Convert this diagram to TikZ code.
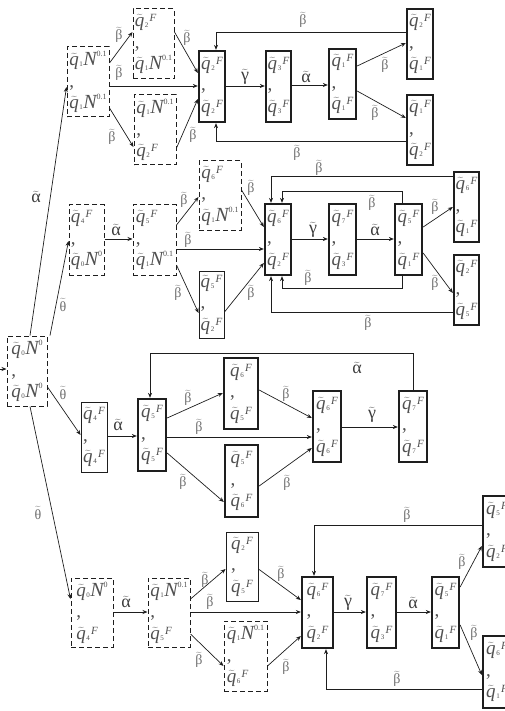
\documentclass[tikz,border=0pt]{standalone}
\usepackage{fontspec}
\setmainfont{Liberation Serif}
\usetikzlibrary{arrows.meta}
\definecolor{txt}{RGB}{80,80,80}
\definecolor{linec}{RGB}{30,30,30}
\definecolor{lbc}{RGB}{110,110,110}
\definecolor{lbd}{RGB}{60,60,60}
\newcommand\qq[1]{$\widetilde{\mbox{\itshape q}}$\hspace{0.6pt}{\fontsize{7}{7}\selectfont\raisebox{-1pt}{#1}}}
\newcommand\qF[1]{\qq{#1}\hspace{1.2pt}\raisebox{5pt}{\fontsize{11}{11}\selectfont\itshape F}}
\newcommand\qN[2]{\qq{#1}\hspace{0.3pt}{\fontsize{20}{20}\selectfont\itshape N}\raisebox{9pt}{\fontsize{8}{8}\selectfont #2}}
\newcommand\bt{$\widetilde{\mbox{β}}$}
\newcommand\at{$\widetilde{\mbox{α}}$}
\newcommand\gt{$\widetilde{\mbox{γ}}$}
\newcommand\tht{$\widetilde{\mbox{θ}}$}
\tikzset{
  qb/.style={rectangle, inner sep=0pt, align=left, text=txt,
    font=\fontsize{19}{21.5}\selectfont},
  thickbox/.style={qb, draw=linec, line width=2.3pt},
  thinbox/.style={qb, draw=linec, line width=0.9pt},
  dashbox/.style={qb, draw=linec, line width=1pt, dash pattern=on 5pt off 3pt},
  arr/.style={draw=linec, line width=0.7pt, -{Stealth[length=5pt,width=4pt]}},
  lb/.style={text=lbc, inner sep=0pt, font=\fontsize{14}{14}\selectfont},
  lbg/.style={text=lbd, inner sep=0pt, font=\fontsize{18}{18}\selectfont},
}
\begin{document}
\begin{tikzpicture}[x=1pt,y=-1pt]
\useasboundingbox (0,0) rectangle (505,711);
\clip (0,0) rectangle (505,711);
% ---------- initial ----------
\node[dashbox, minimum width=40pt, minimum height=70pt] (I0) at (27,371) {\qN{0}{0}\\,\\\qN{0}{0}};
\coordinate (s0) at (0,369);
\draw[arr] (s0) -- (I0.west |- 0,369);
% ---------- section 1 ----------
\node[dashbox, minimum width=42pt, minimum height=70pt] (A1) at (88,82) {\qN{1}{0.1}\\,\\\qN{1}{0.1}};
\node[dashbox, minimum width=41pt, minimum height=70pt] (B1) at (153.5,44) {\qF{2}\\,\\\qN{1}{0.1}};
\node[dashbox, minimum width=42pt, minimum height=70pt] (C1) at (155,130) {\qN{1}{0.1}\\,\\\qF{2}};
\node[thickbox, minimum width=26pt, minimum height=71pt] (D1) at (212,86.5) {\qF{2}\\,\\\qF{2}};
\node[thickbox, minimum width=25pt, minimum height=71pt] (E1) at (278.5,86.5) {\qF{3}\\,\\\qF{3}};
\node[thickbox, minimum width=27pt, minimum height=70pt] (F1) at (342.5,84) {\qF{1}\\,\\\qF{1}};
\node[thickbox, minimum width=26pt, minimum height=70pt] (G1) at (420,44) {\qF{2}\\,\\\qF{1}};
\node[thickbox, minimum width=26pt, minimum height=70pt] (H1) at (420,130) {\qF{1}\\,\\\qF{2}};
\draw[arr] (I0.north -| 30,0) -- (A1.west |- 0,87);
\node[lbg] (l01) at (36,197) {\at};
\draw[arr] (A1.east |- 0,63) -- (B1.west |- 0,32);
\node[lb] (l02) at (119,35) {\bt};
\draw[arr] (A1.east |- 0,86) -- (D1.west |- 0,86);
\node[lb] (l03) at (119,73) {\bt};
\draw[arr] (A1.east |- 0,108) -- (C1.west |- 0,147);
\node[lb] (l04) at (112,137) {\bt};
\draw[arr] (B1.east |- 0,32) -- (D1.west |- 0,73);
\node[lb] (l05) at (187,38) {\bt};
\draw[arr] (C1.east |- 0,148) -- (D1.west |- 0,99);
\node[lb] (l06) at (193,135) {\bt};
\draw[arr] (D1.east |- 0,86) -- (E1.west |- 0,86);
\node[lbg] (l07) at (245,77) {\gt};
\draw[arr] (E1.east |- 0,85) -- (F1.west |- 0,85);
\node[lbg] (l08) at (306,77) {\at};
\draw[arr] (F1.east |- 0,66) -- (G1.west |- 0,43);
\node[lb] (l09) at (385,65) {\bt};
\draw[arr] (F1.east |- 0,91) -- (H1.west |- 0,118);
\node[lb] (l10) at (375,113) {\bt};
\draw[arr] (G1.west |- 0,32) -| (D1.north -| 216,0);
\node[lb] (l11) at (303,20) {\bt};
\draw[arr] (H1.west |- 0,141) -| (D1.south -| 216,0);
\node[lb] (l12) at (297,153) {\bt};
% ---------- section 2 ----------
\node[dashbox, minimum width=35pt, minimum height=70pt] (A2) at (86.5,240) {\qF{4}\\,\\\qN{0}{0}};
\node[dashbox, minimum width=43pt, minimum height=70pt] (B2) at (154.5,240) {\qF{5}\\,\\\qN{1}{0.1}};
\node[dashbox, minimum width=42pt, minimum height=69pt] (C2) at (220,195.5) {\qF{6}\\,\\\qN{1}{0.1}};
\node[thinbox, minimum width=25pt, minimum height=67pt] (D2) at (211.5,304.5) {\qF{5}\\,\\\qF{2}};
\node[thickbox, minimum width=26pt, minimum height=71pt] (E2) at (278,239.5) {\qF{6}\\,\\\qF{2}};
\node[thickbox, minimum width=27pt, minimum height=71pt] (F2) at (342.5,239.5) {\qF{7}\\,\\\qF{3}};
\node[thickbox, minimum width=27pt, minimum height=71pt] (G2) at (408.5,239.5) {\qF{5}\\,\\\qF{1}};
\node[thickbox, minimum width=25pt, minimum height=70pt] (H2) at (466.5,207) {\qF{6}\\,\\\qF{1}};
\node[thickbox, minimum width=25pt, minimum height=70pt] (I2) at (466.5,290) {\qF{2}\\,\\\qF{5}};
\draw[arr] (I0.north -| 50,0) -- (A2.west |- 0,241);
\node[lb] (l13) at (63,305) {\tht};
\draw[arr] (A2.east |- 0,239) -- (B2.west |- 0,239);
\node[lbg] (l14) at (116,230) {\at};
\draw[arr] (B2.east |- 0,225) -- (C2.west |- 0,197);
\node[lb] (l15) at (184,200) {\bt};
\draw[arr] (B2.east |- 0,249) -- (E2.west |- 0,249);
\node[lb] (l16) at (188,240) {\bt};
\draw[arr] (B2.east |- 0,265) -- (D2.west |- 0,313);
\node[lb] (l17) at (178,293) {\bt};
\draw[arr] (C2.east |- 0,190) -- (E2.west |- 0,227);
\node[lb] (l18) at (251,188) {\bt};
\draw[arr] (D2.east |- 0,312) -- (E2.west |- 0,263);
\node[lb] (l19) at (251,293) {\bt};
\draw[arr] (E2.east |- 0,239) -- (F2.west |- 0,239);
\node[lbg] (l20) at (313,230) {\gt};
\draw[arr] (F2.east |- 0,239) -- (G2.west |- 0,239);
\node[lbg] (l21) at (375,230) {\at};
\draw[arr] (G2.east |- 0,227) -- (H2.west |- 0,207);
\node[lb] (l22) at (435,207) {\bt};
\draw[arr] (G2.east |- 0,253) -- (I2.west |- 0,293);
\node[lb] (l23) at (435,283) {\bt};
\draw[arr] (H2.west |- 0,176) -| (E2.north -| 271,0);
\node[lb] (l24) at (319,168) {\bt};
\draw[arr] (G2.north -| 402,0) |- (282,191) -- (E2.north -| 282,0);
\node[lb] (l25) at (372,203) {\bt};
\draw[arr] (G2.south -| 402,0) |- (282,288) -- (E2.south -| 282,0);
\node[lb] (l26) at (308,278) {\bt};
\draw[arr] (I2.west |- 0,312) -| (E2.south -| 271,0);
\node[lb] (l27) at (368,323) {\bt};
% ---------- section 3 ----------
\node[thinbox, minimum width=26pt, minimum height=70pt] (A3) at (94,437) {\qF{4}\\,\\\qF{4}};
\node[thickbox, minimum width=28pt, minimum height=72pt] (B3) at (152,435) {\qF{5}\\,\\\qF{5}};
\node[thickbox, minimum width=34pt, minimum height=71pt] (C3) at (241,393.5) {\qF{6}\\,\\\qF{5}};
\node[thickbox, minimum width=33pt, minimum height=72pt] (D3) at (241.5,481) {\qF{5}\\,\\\qF{6}};
\node[thickbox, minimum width=28pt, minimum height=71pt] (E3) at (327,426.5) {\qF{6}\\,\\\qF{6}};
\node[thickbox, minimum width=28pt, minimum height=71pt] (F3) at (413,426.5) {\qF{7}\\,\\\qF{7}};
\draw[arr] (I0.east |- 0,387) -- (A3.west |- 0,435);
\node[lb] (l28) at (63,393) {\tht};
\draw[arr] (A3.east |- 0,436) -- (B3.west |- 0,436);
\node[lbg] (l29) at (118,425) {\at};
\draw[arr] (B3.east |- 0,418) -- (C3.west |- 0,393);
\node[lb] (l30) at (188,398) {\bt};
\draw[arr] (B3.east |- 0,437) -- (E3.west |- 0,437);
\node[lb] (l31) at (199,427) {\bt};
\draw[arr] (B3.east |- 0,453) -- (D3.west |- 0,502);
\node[lb] (l32) at (183,482) {\bt};
\draw[arr] (C3.east |- 0,390) -- (E3.west |- 0,418);
\node[lb] (l33) at (286,394) {\bt};
\draw[arr] (D3.east |- 0,486) -- (E3.west |- 0,448);
\node[lb] (l34) at (287,483) {\bt};
\draw[arr] (E3.east |- 0,427) -- (F3.west |- 0,427);
\node[lbg] (l35) at (372,415) {\gt};
\draw[arr] (F3.north -| 413,0) |- (150,353) -- (B3.north -| 150,0);
\node[lbg] (l36) at (357,368) {\at};
% ---------- section 4 ----------
\node[dashbox, minimum width=42pt, minimum height=69pt] (A4) at (92,612.5) {\qN{0}{0}\\,\\\qF{4}};
\node[dashbox, minimum width=42pt, minimum height=69pt] (B4) at (169,612.5) {\qN{1}{0.1}\\,\\\qF{5}};
\node[thinbox, minimum width=32pt, minimum height=69pt] (C4) at (242,566.5) {\qF{2}\\,\\\qF{5}};
\node[dashbox, minimum width=43pt, minimum height=70pt] (D4) at (245.5,656) {\qN{1}{0.1}\\,\\\qF{6}};
\node[thickbox, minimum width=31pt, minimum height=71pt] (E4) at (317.5,612.5) {\qF{6}\\,\\\qF{2}};
\node[thickbox, minimum width=29pt, minimum height=71pt] (F4) at (381.5,612.5) {\qF{7}\\,\\\qF{3}};
\node[thickbox, minimum width=27pt, minimum height=71pt] (G4) at (445.5,612.5) {\qF{5}\\,\\\qF{1}};
\node[thickbox, minimum width=28pt, minimum height=71pt] (H4) at (497,531.5) {\qF{5}\\,\\\qF{2}};
\node[thickbox, minimum width=28pt, minimum height=72pt] (I4) at (497,672) {\qF{6}\\,\\\qF{1}};
\draw[arr] (I0.south -| 30,0) -- (A4.west |- 0,599);
\node[lb] (l37) at (38,513) {\tht};
\draw[arr] (A4.east |- 0,612) -- (B4.west |- 0,612);
\node[lbg] (l38) at (126,602) {\at};
\draw[arr] (B4.east |- 0,599) -- (C4.west |- 0,569);
\node[lb] (l39) at (205,580) {\bt};
\draw[arr] (B4.east |- 0,612) -- (E4.west |- 0,612);
\node[lb] (l40) at (210,602) {\bt};
\draw[arr] (B4.east |- 0,634) -- (D4.west |- 0,666);
\node[lb] (l41) at (199,660) {\bt};
\draw[arr] (C4.east |- 0,569) -- (E4.west |- 0,600);
\node[lb] (l42) at (281,574) {\bt};
\draw[arr] (D4.east |- 0,666) -- (E4.west |- 0,636);
\node[lb] (l43) at (286,667) {\bt};
\draw[arr] (E4.east |- 0,612) -- (F4.west |- 0,612);
\node[lbg] (l44) at (348,603) {\gt};
\draw[arr] (F4.east |- 0,612) -- (G4.west |- 0,612);
\node[lbg] (l45) at (413,603) {\at};
\draw[arr] (G4.east |- 0,587) -- (H4.west |- 0,546);
\node[lb] (l46) at (462,562) {\bt};
\draw[arr] (G4.east |- 0,625) -- (I4.west |- 0,675);
\node[lb] (l47) at (474,633) {\bt};
\draw[arr] (H4.west |- 0,525) -| (E4.north -| 314,0);
\node[lb] (l48) at (407,515) {\bt};
\draw[arr] (I4.west |- 0,689) -| (E4.south -| 326,0);
\node[lb] (l49) at (397,679) {\bt};
\end{tikzpicture}
\end{document}
